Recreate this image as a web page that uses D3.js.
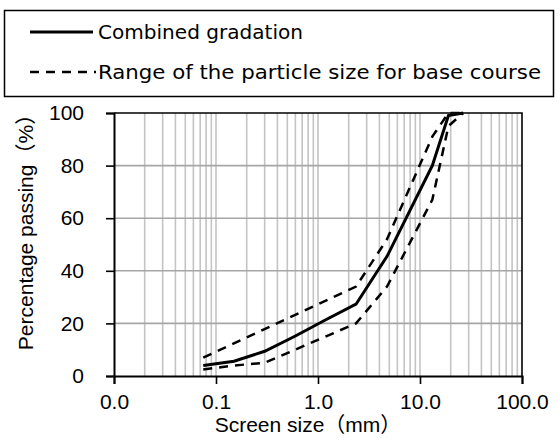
<!DOCTYPE html>
<html>
<head>
<meta charset="utf-8">
<script src="https://cdn.jsdelivr.net/npm/d3@7"></script>
<style>
  html, body { margin: 0; padding: 0; background: #fff; }
  svg { display: block; }
</style>
</head>
<body>
<svg id="chart" width="560" height="442"></svg>
<script>
// Sieve sizes (mm) and percentage passing of the combined aggregate
const sieveSizes = [0.075, 0.15, 0.3, 0.6, 1.18, 2.36, 4.75, 13.2, 19, 26.5];
const combinedPassing = [4.0, 5.6, 9.4, 15.2, 21.3, 27.3, 45.5, 80, 99, 100];

// Grading envelope for base course: upper and lower limits
const upperSizes = [0.075, 2.36, 4.75, 13.2, 19, 26.5];
const upperPassing = [7, 34, 52, 91, 100, 100];
const lowerSizes = [0.075, 0.15, 0.3, 2.36, 4.75, 13.2, 19, 26.5];
const lowerPassing = [2.5, 4, 5, 20, 34, 67, 95, 100];

// Axis ticks and labels
const xTickValues = [0.01, 0.1, 1, 10, 100];
const xTickLabels = ["0.0", "0.1", "1.0", "10.0", "100.0"];
const yTickValues = [0, 20, 40, 60, 80, 100];

const legendLabels = ["Combined gradation", "Range of the particle size for base course"];
const xTitle = "Screen size（mm）";
const yTitle = "Percentage passing（%）";

const svg = d3.select("#chart");
const axisFont = "'Liberation Sans', Arial, 'Noto Sans CJK JP', sans-serif";
const legendFont = "'DejaVu Sans', 'Liberation Sans', sans-serif";

const plot = { left: 114, right: 522, top: 113, bottom: 376 };
const x = d3.scaleLog().domain([0.01, 100]).range([plot.left, plot.right]);
const y = d3.scaleLinear().domain([0, 100]).range([plot.bottom, plot.top]);

// Vertical grid at every 1..9 multiple of each decade
const vGrid = x.ticks().filter(v => v > 0.01 && v < 100);
svg.append("g")
  .selectAll("line").data(vGrid).join("line")
  .attr("x1", d => x(d)).attr("x2", d => x(d))
  .attr("y1", plot.top).attr("y2", plot.bottom)
  .attr("stroke", "#c4c4c4").attr("stroke-width", 1.6);

// Horizontal grid
svg.append("g")
  .selectAll("line").data(yTickValues.filter(v => v > 0 && v < 100)).join("line")
  .attr("x1", plot.left).attr("x2", plot.right)
  .attr("y1", d => y(d)).attr("y2", d => y(d))
  .attr("stroke", "#a6a6a6").attr("stroke-width", 1.6);

// Plot frame (top and right)
svg.append("path")
  .attr("d", `M${plot.left},${plot.top}H${plot.right}V${plot.bottom}`)
  .attr("fill", "none").attr("stroke", "#000").attr("stroke-width", 1.6);

// Axes
const xAxis = d3.axisBottom(x).tickValues(xTickValues)
  .tickFormat((d, i) => xTickLabels[i]).tickSizeOuter(0).tickSize(8).tickPadding(6);
const gx = svg.append("g").attr("transform", `translate(0,${plot.bottom})`).call(xAxis);
const yAxis = d3.axisLeft(y).tickValues(yTickValues).tickSizeOuter(0).tickSize(8).tickPadding(22);
const gy = svg.append("g").attr("transform", `translate(${plot.left},0)`).call(yAxis);

[gx, gy].forEach(g => {
  g.select(".domain").attr("stroke", "#000").attr("stroke-width", 2);
  g.selectAll(".tick line").attr("stroke", "#000").attr("stroke-width", 1.6);
  g.selectAll("text").attr("fill", "#000")
    .style("font-family", axisFont).style("font-size", "21px");
});
gx.selectAll("text").attr("dy", "0.9em");

// Axis titles
svg.append("text")
  .attr("x", 308).attr("y", 432)
  .attr("text-anchor", "middle")
  .style("font-family", axisFont).style("font-size", "21px")
  .text(xTitle);
svg.append("text")
  .attr("transform", "translate(33,227) rotate(-90)")
  .attr("text-anchor", "middle")
  .style("font-family", axisFont).style("font-size", "21px")
  .text(yTitle);

// Curves
const line = d3.line().x(d => x(d[0])).y(d => y(d[1]));
const series = [
  { pts: d3.zip(upperSizes, upperPassing), dash: "9,7", w: 2.5 },
  { pts: d3.zip(lowerSizes, lowerPassing), dash: "9,7", w: 2.5 },
  { pts: d3.zip(sieveSizes, combinedPassing), dash: null, w: 3 }
];
svg.append("g").selectAll("path").data(series).join("path")
  .attr("d", d => line(d.pts))
  .attr("fill", "none").attr("stroke", "#000")
  .attr("stroke-width", d => d.w)
  .attr("stroke-dasharray", d => d.dash)
  .attr("stroke-linejoin", "miter");

// Legend
const legend = svg.append("g");
legend.append("rect")
  .attr("x", 4.5).attr("y", 10.5).attr("width", 549).attr("height", 86)
  .attr("fill", "#fff").attr("stroke", "#000").attr("stroke-width", 1.5);
const legendRows = [
  { label: legendLabels[0], dash: null, w: 3, cy: 32, len: 205 },
  { label: legendLabels[1], dash: "9,7", w: 2.5, cy: 72, len: 443 }
];
legendRows.forEach(r => {
  legend.append("line")
    .attr("x1", 30).attr("x2", r.dash ? 96 : 93)
    .attr("y1", r.cy).attr("y2", r.cy)
    .attr("stroke", "#000").attr("stroke-width", r.w)
    .attr("stroke-dasharray", r.dash);
  legend.append("text")
    .attr("x", 98).attr("y", r.cy).attr("dy", "0.36em")
    .attr("textLength", r.len).attr("lengthAdjust", "spacingAndGlyphs")
    .style("font-family", legendFont).style("font-size", "20px")
    .text(r.label);
});
</script>
</body>
</html>
